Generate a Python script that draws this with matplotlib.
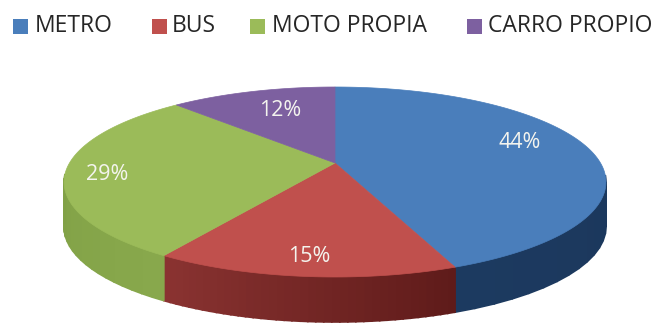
import numpy as np
from matplotlib import pyplot as plt
from matplotlib.patches import Polygon, Rectangle

categories = ['METRO', 'BUS', 'MOTO PROPIA', 'CARRO PROPIO']
values = [44, 15, 29, 12]
top_colors = ['#4a7ebb', '#c0504d', '#9bbb59', '#7d60a0']
wall_start = ['#1a3355', '#5f1b1a', '#88a84c', '#5c4677']   # shade at start of the slice (clockwise)
wall_end = ['#1c3a60', '#8a3331', '#7a9a40', '#5c4677']

# label and legend placement in pixels
label_pos = [(520, 143), (309, 257), (107, 175), (280, 111)]
legend_box = [13, 152, 250, 467]
legend_text = [35, 172, 272, 488]

# pie geometry in pixels, perspective pulls the apex above the ellipse centre
cx, cy = 335, 163
rx, ry = 265.5, 91.2
persp = 0.2
depth = 45


def rim(frac):
    # frac goes clockwise from 12 o'clock, returns pixel positions
    ang = 2 * np.pi * np.asarray(frac)
    x, y = np.sin(ang), np.cos(ang)
    w = 1 + persp * y
    return cx + rx * x / w, cy - ry * y / w


def mix(c1, c2, t):
    a = np.array(plt.matplotlib.colors.to_rgb(c1))
    b = np.array(plt.matplotlib.colors.to_rgb(c2))
    return a + (b - a) * t


fig = plt.figure(figsize=(6.58, 3.23), dpi=100)
ax = fig.add_axes([0, 0, 1, 1])
ax.set_xlim(0, 658)
ax.set_ylim(323, 0)
ax.axis('off')

edges = np.concatenate([[0], np.cumsum(values)]) / np.sum(values)

# side walls first, the tops cover whatever is behind
for i in range(len(values)):
    fr = np.linspace(edges[i], edges[i + 1], 40)
    for j in range(len(fr) - 1):
        xs, ys = rim(fr[j:j + 2])
        if ys.max() < cy + 15:
            continue
        pts = [(xs[0], ys[0]), (xs[1], ys[1]), (xs[1], ys[1] + depth), (xs[0], ys[0] + depth)]
        col = mix(wall_start[i], wall_end[i], j / (len(fr) - 2))
        ax.add_patch(Polygon(pts, closed=True, fc=col, ec=col, lw=1.2, zorder=2))

# top faces
for i in range(len(values)):
    fr = np.linspace(edges[i], edges[i + 1], 120)
    xs, ys = rim(fr)
    pts = [(cx, cy)] + list(zip(xs, ys))
    ax.add_patch(Polygon(pts, closed=True, fc=top_colors[i], ec=top_colors[i], lw=0.5, zorder=3))

# percentage labels
for v, (px, py) in zip(values, label_pos):
    ax.text(px, py, '%d%%' % v, color='#f4f4ee', fontsize=15.5, family='Open Sans',
            ha='center', va='center', zorder=5)

# legend
for name, col, bx, tx in zip(categories, top_colors, legend_box, legend_text):
    ax.add_patch(Rectangle((bx, 19), 15, 15, fc=col, ec='none'))
    ax.text(tx, 26, name, color='#262626', fontsize=16.5, family='Open Sans', ha='left', va='center')

fig.savefig('out.png', dpi=100)
